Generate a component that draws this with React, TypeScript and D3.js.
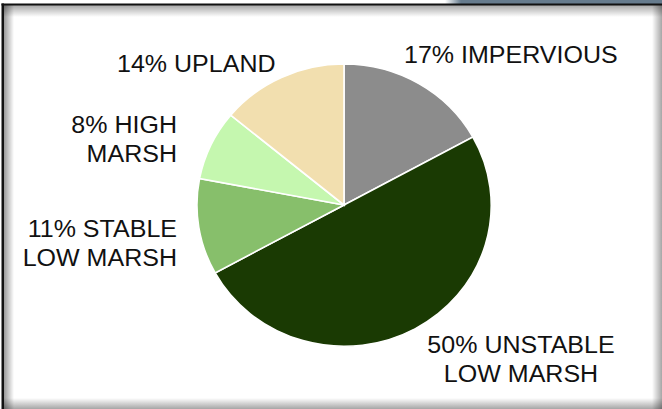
import { useEffect, useRef } from 'react';
import * as d3 from 'd3';

// land cover shares, clockwise from 12 o'clock
const categories = ['IMPERVIOUS', 'UNSTABLE LOW MARSH', 'STABLE LOW MARSH', 'HIGH MARSH', 'UPLAND'];
const shares = [17, 50, 11, 8, 14];
const colors = ['#8c8c8c', '#1a3a03', '#87bf6b', '#c5f7af', '#f2dfaf'];
// label lines as they are broken in the picture
const labelLines = [
    ['17% IMPERVIOUS'],
    ['50% UNSTABLE', 'LOW MARSH'],
    ['11% STABLE', 'LOW MARSH'],
    ['8% HIGH', 'MARSH'],
    ['14% UPLAND'],
];

const App = () => {
    const svgRef = useRef<SVGSVGElement>(null);

    useEffect(() => {
        if (!svgRef.current) return;
        const svg = d3.select(svgRef.current);
        svg.selectAll('*').remove();

        const width = 662;
        const height = 409;
        const stretch = 1.043; // picture is slightly wider than tall

        const defs = svg.append('defs');
        const grad = (id: string, x1: number, y1: number, x2: number, y2: number, stops: [number, string, number][]) => {
            const g = defs.append('linearGradient').attr('id', id)
                .attr('x1', x1).attr('y1', y1).attr('x2', x2).attr('y2', y2);
            stops.forEach(([o, c, a]) => g.append('stop').attr('offset', o).attr('stop-color', c).attr('stop-opacity', a));
        };
        grad('shTop', 0, 0, 0, 1, [[0, '#000', 0.35], [1, '#000', 0]]);
        grad('shLeft', 0, 0, 1, 0, [[0, '#000', 0.4], [1, '#000', 0]]);
        grad('shRight', 0, 0, 1, 0, [[0, '#000', 0], [1, '#000', 0.35]]);
        grad('shBottom', 0, 0, 0, 1, [[0, '#000', 0], [1, '#000', 0.35]]);
        grad('topBar', 0, 0, 1, 0, [[0, '#667b8d', 0], [1, '#667b8d', 1]]);

        svg.append('rect').attr('width', width).attr('height', height).attr('fill', '#fff');

        // window strip above the frame
        svg.append('rect').attr('x', 445).attr('y', 0).attr('width', 16).attr('height', 4).attr('fill', 'url(#topBar)');
        svg.append('rect').attr('x', 461).attr('y', 0).attr('width', width - 461).attr('height', 4).attr('fill', '#667b8d');

        // frame inner shadows
        svg.append('rect').attr('x', 4).attr('y', 5).attr('width', width - 4).attr('height', 12).attr('fill', 'url(#shTop)');
        svg.append('rect').attr('x', 4).attr('y', 5).attr('width', 10).attr('height', height - 5).attr('fill', 'url(#shLeft)');
        svg.append('rect').attr('x', width - 10).attr('y', 5).attr('width', 10).attr('height', height - 5).attr('fill', 'url(#shRight)');
        svg.append('rect').attr('x', 4).attr('y', height - 11).attr('width', width - 4).attr('height', 11).attr('fill', 'url(#shBottom)');

        // frame lines
        svg.append('rect').attr('x', 1.5).attr('y', 3.5).attr('width', width).attr('height', 2).attr('fill', '#111');
        svg.append('rect').attr('x', 1.5).attr('y', 3.5).attr('width', 2.5).attr('height', height).attr('fill', '#111');

        // pie
        const pie = d3.pie<number>().sort(null).value(d => d);
        const arc = d3.arc<d3.PieArcDatum<number>>().innerRadius(0).outerRadius(141);

        const g = svg.append('g').attr('transform', `translate(344,205) scale(${stretch},1)`);
        g.selectAll('path')
            .data(pie(shares))
            .enter()
            .append('path')
            .attr('d', arc)
            .attr('fill', (_, i) => colors[i])
            .attr('stroke', '#fff')
            .attr('stroke-width', 1.6)
            .attr('vector-effect', 'non-scaling-stroke')
            .append('title')
            .text((d, i) => `${categories[i]}: ${d.data}%`);

        // labels
        const labelPos: { x: number; y: number; anchor: string }[] = [
            { x: 404, y: 63, anchor: 'start' },
            { x: 521, y: 353, anchor: 'middle' },
            { x: 177, y: 237, anchor: 'end' },
            { x: 177, y: 133, anchor: 'end' },
            { x: 117, y: 72, anchor: 'start' },
        ];

        labelLines.forEach((lines, i) => {
            const p = labelPos[i];
            const t = svg.append('text')
                .attr('transform', `translate(${p.x},${p.y}) scale(${stretch},1)`)
                .attr('text-anchor', p.anchor)
                .attr('font-family', '"Liberation Sans", Arial, sans-serif')
                .attr('font-size', 24)
                .attr('fill', '#111');
            lines.forEach((line, j) => {
                t.append('tspan').attr('x', 0).attr('y', j * 29).text(line);
            });
        });
    }, []);

    return (
        <svg ref={svgRef} width={662} height={409} style={{ position: 'absolute', left: 0, top: 0, display: 'block' }}></svg>
    );
};

export default App;
